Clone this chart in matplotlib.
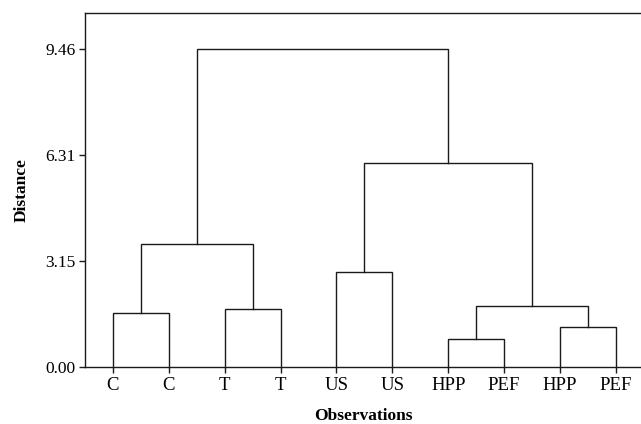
import numpy as np
import matplotlib
matplotlib.use('Agg')
import matplotlib.pyplot as plt

# Dendrogram data: leaf labels and merge heights
folhas = ['C', 'C', 'T', 'T', 'US', 'US', 'HPP', 'PEF', 'HPP', 'PEF']
# merges: (left node, right node, height); leaves are 0..9, new nodes start at 10
fusoes = [
    (0, 1, 1.63),
    (2, 3, 1.74),
    (10, 11, 3.66),
    (4, 5, 2.84),
    (6, 7, 0.85),
    (8, 9, 1.21),
    (14, 15, 1.82),
    (13, 16, 6.07),
    (12, 17, 9.46),
]
yticks = [0.00, 3.15, 6.31, 9.46]

plt.rcParams['font.family'] = ['Liberation Serif', 'DejaVu Serif']

fig = plt.figure(figsize=(6.41, 4.24), dpi=100)
ax = fig.add_axes([0.1326, 0.1333, 0.8674, 0.8353])

# node positions and heights
pos = {i: i + 1 for i in range(len(folhas))}
alt = {i: 0.0 for i in range(len(folhas))}
cor = '#1a1a1a'
for k, (a, b, h) in enumerate(fusoes):
    xa, xb = pos[a], pos[b]
    ax.plot([xa, xa, xb, xb], [alt[a], h, h, alt[b]], color=cor, lw=1.0,
            solid_joinstyle='miter', clip_on=False)
    novo = len(folhas) + k
    pos[novo] = (xa + xb) / 2
    alt[novo] = h

ax.set_xlim(0.5, 10.45)
ax.set_ylim(0, 10.51)
ax.set_xticks(np.arange(1, len(folhas) + 1))
ax.set_xticklabels(folhas)
ax.set_yticks(yticks)
ax.set_yticklabels(['%.2f' % v for v in yticks])
ax.tick_params(axis='both', length=4, width=1.0, color=cor,
               direction='out', pad=3)
ax.tick_params(axis='x', labelsize=13.5)
ax.tick_params(axis='y', labelsize=12.5)
ax.spines['right'].set_visible(False)
for s in ['left', 'top', 'bottom']:
    ax.spines[s].set_linewidth(1.0)
    ax.spines[s].set_color(cor)

ax.set_xlabel('Observations', fontsize=12.5, fontweight='bold', labelpad=10)
ax.set_ylabel('Distance', fontsize=12.5, fontweight='bold', labelpad=11)

fig.savefig('out.png', dpi=100)
